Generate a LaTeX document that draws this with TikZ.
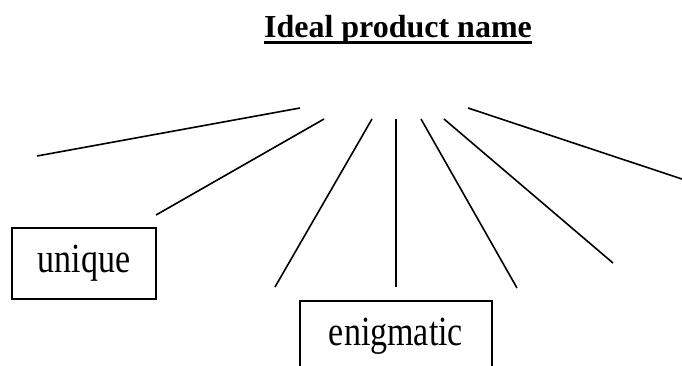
\documentclass[tikz,border=0pt]{standalone}
\usepackage{graphicx}
\usepackage{fontspec}
\setmainfont{Liberation Serif}
\newcommand{\titleul}[1]{\setbox0\hbox{#1}\rlap{\rule[-5.2pt]{\wd0}{2.2pt}}\box0}
\newcommand{\tallword}[1]{\scalebox{1}[1.22]{#1}}
\begin{document}
\begin{tikzpicture}[x=0.75pt,y=-0.75pt,inner sep=0pt,
  word/.style={draw,line width=1.3pt,font=\fontsize{25.5pt}{30pt}\selectfont},
  spoke/.style={line width=1.2pt}]
\useasboundingbox (0,0) rectangle (682,365);
\node[anchor=base,font=\fontsize{24pt}{28pt}\selectfont\bfseries] (title) at (398,37) {\titleul{Ideal product name}};
\node[word,minimum width=108pt,minimum height=53.25pt] (unique) at (84,263.5) {\tallword{unique}};
\node[word,minimum width=144pt,minimum height=53.25pt] (enigmatic) at (396,336.5) {\tallword{enigmatic}};
\coordinate (h1) at (300,108);
\coordinate (h2) at (324,119);
\coordinate (h3) at (372,119);
\coordinate (h4) at (396,119);
\coordinate (h5) at (421,119);
\coordinate (h6) at (444,119);
\coordinate (h7) at (468,108);
\coordinate (t1) at (37,156);
\coordinate (t2) at (156,215);
\coordinate (t3) at (275,287);
\coordinate (t4) at (396,287);
\coordinate (t5) at (517,288);
\coordinate (t6) at (613,263);
\coordinate (t7) at (685,180);
\path (h1) edge [spoke] (t1);
\path (h2) edge [spoke] (t2);
\path (h3) edge [spoke] (t3);
\path (h4) edge [spoke] (t4);
\path (h5) edge [spoke] (t5);
\path (h6) edge [spoke] (t6);
\path (h7) edge [spoke] (t7);
\end{tikzpicture}
\end{document}
